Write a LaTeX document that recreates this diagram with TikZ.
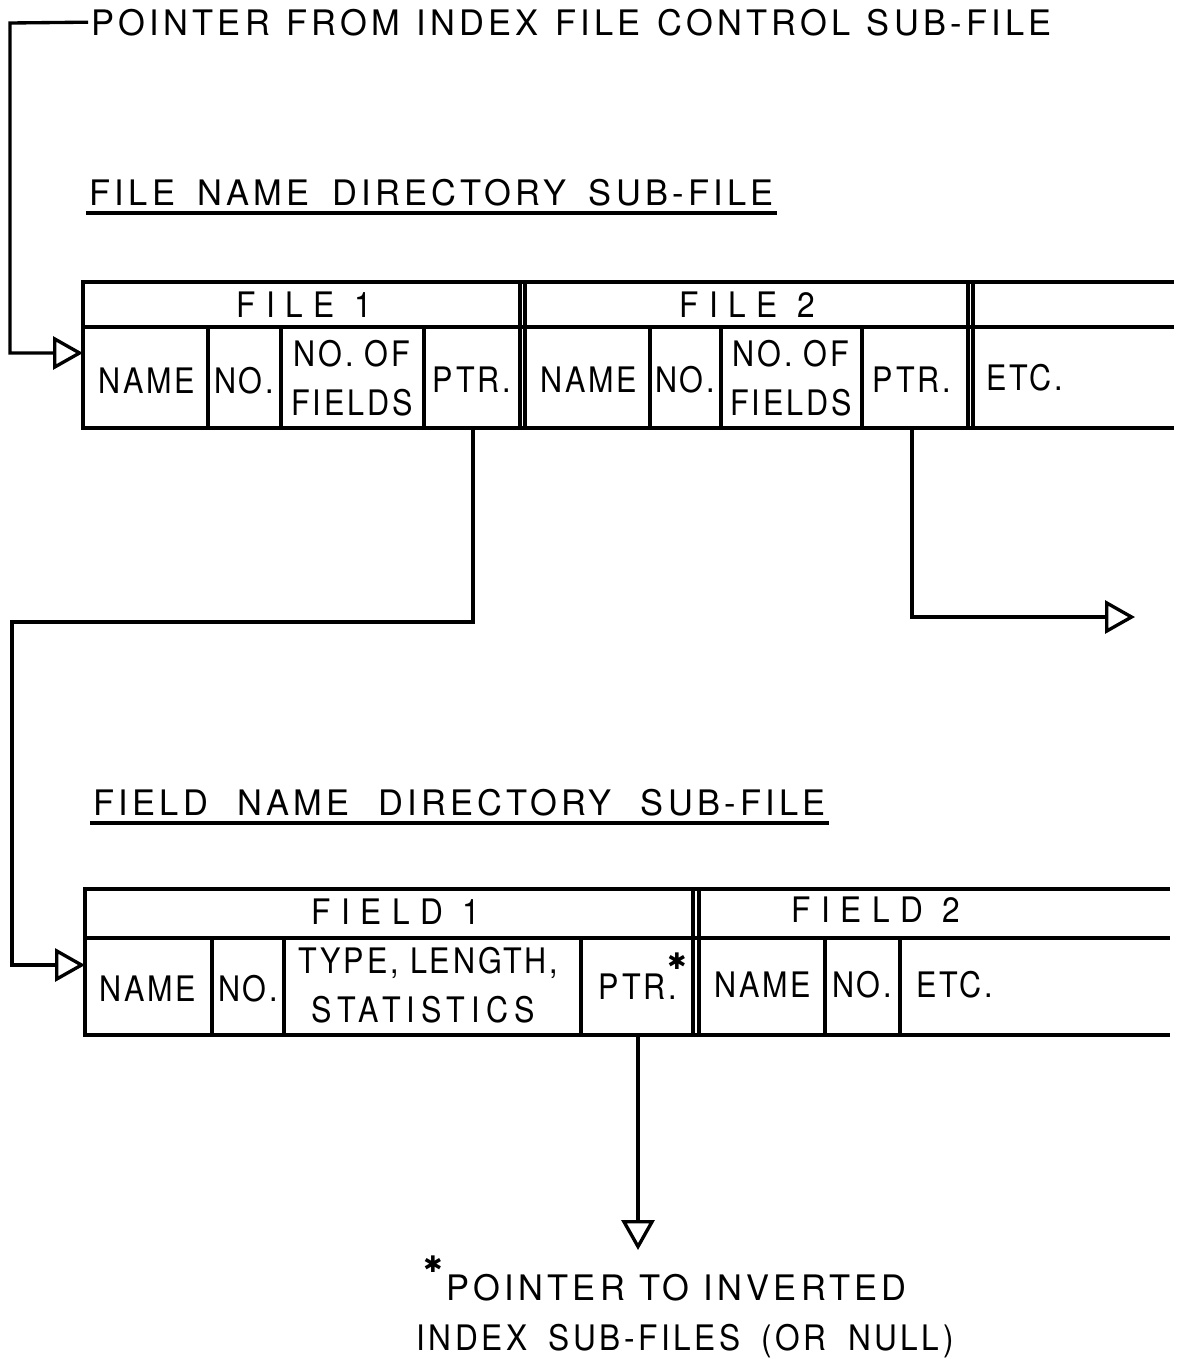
\documentclass[tikz,border=0pt]{standalone}
\usepackage{fontspec}
\usetikzlibrary{arrows.meta,calc}
\newfontfamily\hfont[LetterSpace=12,FakeStretch=0.98]{TeX Gyre Heros}
\newfontfamily\nfont[LetterSpace=10,FakeStretch=0.9]{TeX Gyre Heros}
\newfontfamily\cfont[LetterSpace=8,FakeStretch=0.87]{TeX Gyre Heros}
\newfontfamily\tfont[LetterSpace=17,FakeStretch=0.87]{TeX Gyre Heros}
\newfontfamily\xfont[LetterSpace=30,FakeStretch=0.9]{TeX Gyre Heros}
\newfontfamily\sfont{DejaVu Sans}
\newcommand{\spread}[2]{\makebox[#1][s]{#2}}
\begin{document}
\begin{tikzpicture}[x=0.02cm,y=-0.02cm,line width=1.9pt,line cap=rect,
  ptr/.style={line width=1.9pt,-{Triangle[open,length=0.6cm,width=0.66cm,line width=1.9pt]}},
  head/.style={font=\hfont\fontsize{20}{24}\selectfont,anchor=base west,inner sep=0pt},
  cell/.style={font=\cfont\fontsize{20}{28}\selectfont,inner sep=0pt,align=center},
  hcell/.style={font=\xfont\fontsize{20}{24}\selectfont,inner sep=0pt},
  ast/.style={font=\sfont\fontsize{13}{13}\selectfont,inner sep=0pt}]
\useasboundingbox (0,0) rectangle (1181,1359);

% headings
\node[head] (title) at (90,35) {\spread{19.2cm}{POINTER FROM INDEX FILE CONTROL SUB-FILE}};
\node[head] (fnd) at (88,205) {\spread{13.68cm}{FILE NAME DIRECTORY SUB-FILE}};
\draw ($(fnd.base west)+(0,8)$) -- ($(fnd.base east)+(0,8)$);
\node[head] (fld) at (92,815) {\spread{14.64cm}{FIELD NAME DIRECTORY SUB-FILE}};
\draw ($(fld.base west)+(0,8)$) -- ($(fld.base east)+(0,8)$);

% file name directory table
\draw (1172,282) -- (83,282) -- (83,428) -- (1172,428);
\draw (83,327) -- (1172,327);
\foreach \x in {208,281,424,650,721,862}
  \draw (\x,327) -- (\x,428);
\foreach \x in {520,525,968,973}
  \draw (\x,282) -- (\x,428);
\node[hcell] (f1) at (304,305) {FILE 1};
\node[hcell] (f2) at (747,305) {FILE 2};
\node[cell] (f1name) at (147,381) {NAME};
\node[cell] (f1no) at (244,381) {NO.};
\node[cell] (f1nof) at (352,378) {NO. OF\\FIELDS};
\node[cell] (f1ptr) at (472,380) {PTR.};
\node[cell] (f2name) at (589,380) {NAME};
\node[cell] (f2no) at (685,380) {NO.};
\node[cell] (f2nof) at (791,378) {NO. OF\\FIELDS};
\node[cell] (f2ptr) at (912,380) {PTR.};
\node[cell,anchor=west] (fetc) at (985,378) {ETC.};

% field name directory table
\draw (1168,889) -- (85,889) -- (85,1035) -- (1168,1035);
\draw (85,938) -- (1168,938);
\foreach \x in {212,284,581,825,900}
  \draw (\x,938) -- (\x,1035);
\foreach \x in {693,699}
  \draw (\x,889) -- (\x,1035);
\node[hcell] (d1) at (396,912) {FIELD 1};
\node[hcell] (d2) at (876,910) {FIELD 2};
\node[cell] (d1name) at (148,989) {NAME};
\node[cell] (d1no) at (248,989) {NO.};
\node[cell,align=left,anchor=west] (d1tls) at (297,985) {TYPE, LENGTH,\\\hspace*{0.26cm}{\tfont STATISTICS}};
\node[cell] (d1ptr) at (638,987) {PTR.};
\node[ast] (d1ast) at (677,961) {✱};
\node[cell] (d2name) at (763,985) {NAME};
\node[cell] (d2no) at (862,985) {NO.};
\node[cell,anchor=west] (detc) at (915,985) {ETC.};

% footnote
\node[ast] (fnast) at (433,1264) {✱};
\node[head] (fn1) at (445,1300) {\spread{9.2cm}{POINTER TO INVERTED}};
\node[head,font=\nfont\fontsize{20}{24}\selectfont] (fn2) at (415,1350) {\spread{10.74cm}{INDEX SUB-FILES (OR NULL)}};

% connector coordinates
\coordinate (c0) at (10,23);
\coordinate (c1) at (10,353);
\coordinate (t1in) at (83,353);
\coordinate (p1) at (473,428);
\coordinate (p1a) at (473,622);
\coordinate (p1b) at (12,622);
\coordinate (p1c) at (12,965);
\coordinate (t2in) at (85,965);
\coordinate (p2) at (912,428);
\coordinate (p2a) at (912,617);
\coordinate (p2end) at (1135,617);
\coordinate (p3) at (638,1035);
\coordinate (p3end) at (638,1250);

\draw[ptr] ([xshift=-2pt]title.west) -- (c0) -- (c1) -- (t1in);
\draw[ptr] (p1) -- (p1a) -- (p1b) -- (p1c) -- (t2in);
\draw[ptr] (p2) -- (p2a) -- (p2end);
\draw[ptr] (p3) -- (p3end);
\end{tikzpicture}
\end{document}
